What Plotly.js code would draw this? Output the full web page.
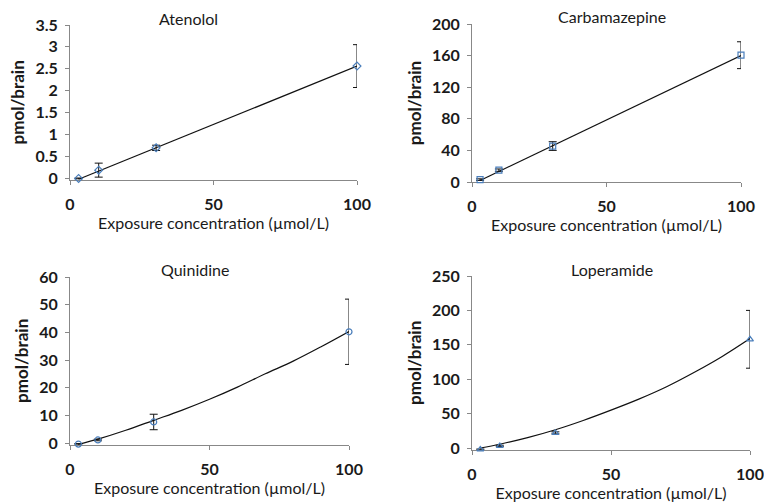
<!DOCTYPE html>
<html><head><meta charset="utf-8">
<script src="https://cdn.plot.ly/plotly-3.0.1.min.js"></script>
<style>html,body{margin:0;padding:0;background:#fff}#chart{width:764px;height:502px}</style>
</head><body><div id="chart"></div>
<script>
// Exposure concentrations (µmol/L)
var conc = [3, 10, 30, 100];

// Atenolol
var atenololMean = [-0.01, 0.18, 0.69, 2.56];
var atenololErr  = [0.01, 0.16, 0.06, 0.49];
var atenololFitX = [3, 100];
var atenololFitY = [-0.03, 2.56];

// Carbamazepine
var carbaMean = [3, 15, 45.5, 160.5];
var carbaErr  = [1, 1.5, 5.5, 17];
var carbaFitX = [3, 100];
var carbaFitY = [2, 160];

// Quinidine
var quinMean = [-0.4, 1.1, 7.6, 40.2];
var quinErr  = [0.2, 0.3, 2.8, 11.8];
var quinFitX = [3, 10, 20, 30, 40, 50, 60, 70, 80, 90, 100];
var quinFitY = [-0.5, 1.4, 4.6, 8.2, 11.8, 15.8, 20.2, 25.0, 29.6, 34.8, 40.3];

// Loperamide
var loperMean = [-2, 3, 22, 158];
var loperErr  = [0.5, 1, 1.5, 42];
var loperFitX = [3, 10, 20, 30, 40, 50, 60, 70, 80, 90, 100];
var loperFitY = [0, 5.5, 15, 26.5, 40, 55, 71, 89, 110, 133, 159];

var titles = ["Atenolol", "Carbamazepine", "Quinidine", "Loperamide"];
var xTitle = "Exposure concentration (µmol/L)";
var yTitle = "pmol/brain";

var blue = '#4a7ebb';
function pts(y, err, sym, xa, ya) {
  return {x: conc, y: y, xaxis: xa, yaxis: ya, mode: 'markers', type: 'scatter',
    cliponaxis: false,
    marker: {symbol: sym, size: 6, color: blue, line: {color: blue, width: 1.2}},
    error_y: {type: 'data', array: err, visible: true, color: '#111', thickness: 1, width: 4},
    showlegend: false, hoverinfo: 'skip'};
}
function fit(x, y, xa, ya) {
  return {x: x, y: y, xaxis: xa, yaxis: ya, mode: 'lines', type: 'scatter',
    cliponaxis: false,
    line: {color: '#111', width: 1.2, shape: 'spline'}, showlegend: false, hoverinfo: 'skip'};
}
var data = [
  fit(atenololFitX, atenololFitY, 'x', 'y'),  pts(atenololMean, atenololErr, 'diamond-open', 'x', 'y'),
  fit(carbaFitX, carbaFitY, 'x2', 'y2'),      pts(carbaMean, carbaErr, 'square-open', 'x2', 'y2'),
  fit(quinFitX, quinFitY, 'x3', 'y3'),        pts(quinMean, quinErr, 'circle-open', 'x3', 'y3'),
  fit(loperFitX, loperFitY, 'x4', 'y4'),      pts(loperMean, loperErr, 'triangle-up-open', 'x4', 'y4')
];

var W = 764, H = 502;
function px(v){return v / W;}
function py(v){return 1 - v / H;}
var FAM = 'Lato, "Open Sans", sans-serif';
var tickFont = {family: FAM, size: 16, color: '#1a1a1a', weight: 'bold'};
function xax(x0, x1, anchor) {
  return {domain: [px(x0), px(x1)], range: [0, 100], anchor: anchor, tickvals: [0, 50, 100],
    showgrid: false, zeroline: false, showline: true, linecolor: '#888', linewidth: 1, layer: 'below traces',
    ticks: 'outside', ticklen: 4, tickcolor: '#888', ticklabelstandoff: 6, tickfont: tickFont,
    title: {text: xTitle, font: {family: FAM, size: 16, color: '#1a1a1a'}, standoff: 5}};
}
// zeroPx: pixel row of value 0, topPx: pixel row of range max; range min may dip slightly below 0
function yax(zeroPx, topPx, range, dtick, anchor) {
  var perUnit = (zeroPx - topPx) / range[1];
  var bottomPx = zeroPx - range[0] * perUnit;
  return {domain: [py(bottomPx), py(topPx)], range: range, tick0: 0, dtick: dtick, anchor: anchor,
    showgrid: false, zeroline: false, showline: true, linecolor: '#888', linewidth: 1, layer: 'below traces',
    ticks: 'outside', ticklen: 4, tickcolor: '#888', ticklabelstandoff: 4, tickfont: tickFont,
    title: {text: yTitle, font: {family: FAM, size: 17, color: '#1a1a1a', weight: 'bold'}, standoff: 6}};
}
var layout = {
  width: W, height: H, margin: {l: 0, r: 0, t: 0, b: 0},
  paper_bgcolor: '#fff', plot_bgcolor: '#fff', showlegend: false,
  xaxis:  xax(70, 357, 'y'),   yaxis:  yax(178, 25, [-0.04, 3.5], 0.5, 'x'),
  xaxis2: xax(472, 741, 'y2'), yaxis2: yax(182, 24, [0, 200], 40, 'x2'),
  xaxis3: xax(70, 349, 'y3'),  yaxis3: yax(443, 277, [-0.6, 60], 10, 'x3'),
  xaxis4: xax(472, 750, 'y4'), yaxis4: yax(448, 276, [-2.5, 250], 50, 'x4'),
  annotations: [
    [titles[0], 188, 19], [titles[1], 612, 17], [titles[2], 195, 269], [titles[3], 612, 269]
  ].map(function(t){ return {text: t[0], xref: 'paper', yref: 'paper', x: px(t[1]), y: py(t[2]),
    xanchor: 'center', yanchor: 'middle', showarrow: false,
    font: {family: FAM, size: 16, color: '#1a1a1a'}}; })
};
Plotly.newPlot('chart', data, layout, {staticPlot: true, displayModeBar: false});
</script></body></html>
